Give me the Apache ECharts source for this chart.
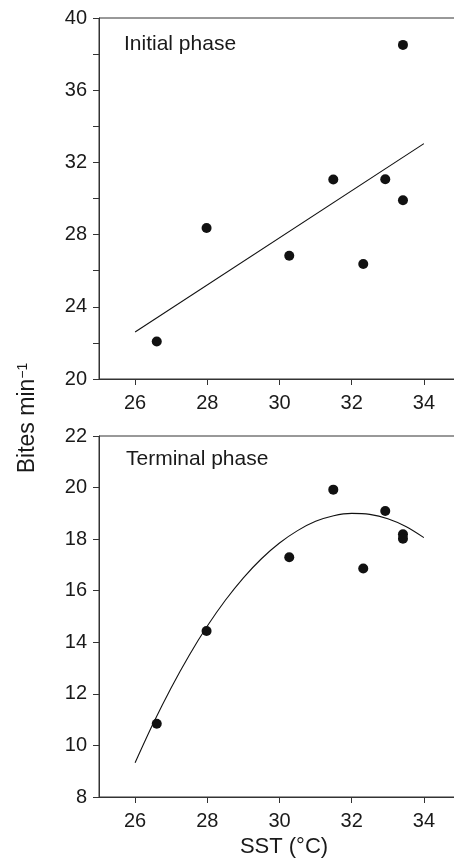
<!DOCTYPE html>
<html><head><meta charset="utf-8">
<script src="https://cdn.jsdelivr.net/npm/echarts@6/dist/echarts.min.js"></script>
<style>html,body{margin:0;padding:0;background:#fff}#c{width:454px;height:859px}</style>
</head><body><div id="c"></div>
<script>
// Data
const sst = [26.6, 27.98, 30.27, 31.49, 32.32, 32.93, 33.42, 33.42];
const initialBites = [22.08, 28.37, 26.83, 31.05, 26.37, 31.07, 29.9, 38.51];
const terminalBites = [10.84, 14.44, 17.3, 19.92, 16.86, 19.09, 18.19, 18.02];
const initialFitX = [26, 34];
const initialFitY = [22.6, 33.04];
const terminalFitX = [26, 26.5, 27, 27.5, 28, 28.5, 29, 29.5, 30, 30.5, 31, 31.5, 32, 32.5, 33, 33.5, 34];
const terminalFitY = [9.33, 10.85, 12.24, 13.5, 14.63, 15.63, 16.5, 17.24, 17.85, 18.33, 18.69, 18.91, 19.0, 18.96, 18.79, 18.49, 18.06];
const xTickLabels = [26, 28, 30, 32, 34];
const yTickLabelsTop = [20, 24, 28, 32, 36, 40];
const yTickLabelsBottom = [8, 10, 12, 14, 16, 18, 20, 22];

const FONT = 'Liberation Sans, Arial, Helvetica, sans-serif';
const AX = '#333';
const TXT = '#1a1a1a';

function pairs(xs, ys) { return xs.map((x, i) => [x, ys[i]]); }

function xAxisCfg(gi) {
  return {
    type: 'value', gridIndex: gi, min: 25, max: 35,
    axisLine: { show: true, lineStyle: { color: AX, width: 1 } },
    axisTick: { show: true, length: 6, customValues: xTickLabels, lineStyle: { color: AX } },
    axisLabel: { customValues: xTickLabels, margin: 14, fontSize: 20, color: TXT, fontFamily: FONT },
    splitLine: { show: false }
  };
}
function yAxisCfg(gi, min, max, labels) {
  return {
    type: 'value', gridIndex: gi, min: min, max: max, interval: 2,
    axisLine: { show: true, lineStyle: { color: AX, width: 1 } },
    axisTick: { show: true, length: 6, lineStyle: { color: AX } },
    axisLabel: { customValues: labels, margin: 12, fontSize: 20, color: TXT, fontFamily: FONT },
    splitLine: { show: false }
  };
}

const chart = echarts.init(document.getElementById('c'), null, { renderer: 'canvas' });
chart.setOption({
  animation: false,
  backgroundColor: '#fff',
  grid: [
    { left: 99, width: 361, top: 18, height: 361, outerBoundsMode: 'none', containLabel: false,
      show: true, borderColor: AX, borderWidth: 1, backgroundColor: 'transparent' },
    { left: 99, width: 361, top: 436, height: 361, outerBoundsMode: 'none', containLabel: false,
      show: true, borderColor: AX, borderWidth: 1, backgroundColor: 'transparent' }
  ],
  xAxis: [xAxisCfg(0), xAxisCfg(1)],
  yAxis: [yAxisCfg(0, 20, 40, yTickLabelsTop), yAxisCfg(1, 8, 22, yTickLabelsBottom)],
  series: [
    { type: 'line', xAxisIndex: 0, yAxisIndex: 0, data: pairs(initialFitX, initialFitY), symbol: 'none',
      lineStyle: { color: '#111', width: 1.1 }, z: 2 },
    { type: 'scatter', xAxisIndex: 0, yAxisIndex: 0, data: pairs(sst, initialBites), symbolSize: 10,
      itemStyle: { color: '#111', opacity: 1 }, z: 3 },
    { type: 'line', xAxisIndex: 1, yAxisIndex: 1, data: pairs(terminalFitX, terminalFitY), symbol: 'none', smooth: 0.3,
      lineStyle: { color: '#111', width: 1.1 }, z: 2 },
    { type: 'scatter', xAxisIndex: 1, yAxisIndex: 1, data: pairs(sst, terminalBites), symbolSize: 10,
      itemStyle: { color: '#111', opacity: 1 }, z: 3 }
  ],
  graphic: [
    { type: 'text', left: 124, top: 34, style: { text: 'Initial phase', font: '21px ' + FONT, fill: TXT } },
    { type: 'text', left: 126, top: 449, style: { text: 'Terminal phase', font: '21px ' + FONT, fill: TXT } },
    { type: 'text', x: 284, y: 847, style: { text: 'SST (°C)', font: '22px ' + FONT, fill: TXT, align: 'center', verticalAlign: 'middle' } },
    { type: 'text', x: 28, y: 418, rotation: Math.PI / 2,
      style: { text: 'Bites min{sup|−1}', font: '23px ' + FONT, fill: TXT, align: 'center', verticalAlign: 'middle',
        rich: { sup: { fontSize: 14, fontFamily: FONT, verticalAlign: 'top', padding: [0, 0, 10, 0], fill: TXT } } } }
  ]
});
</script></body></html>
